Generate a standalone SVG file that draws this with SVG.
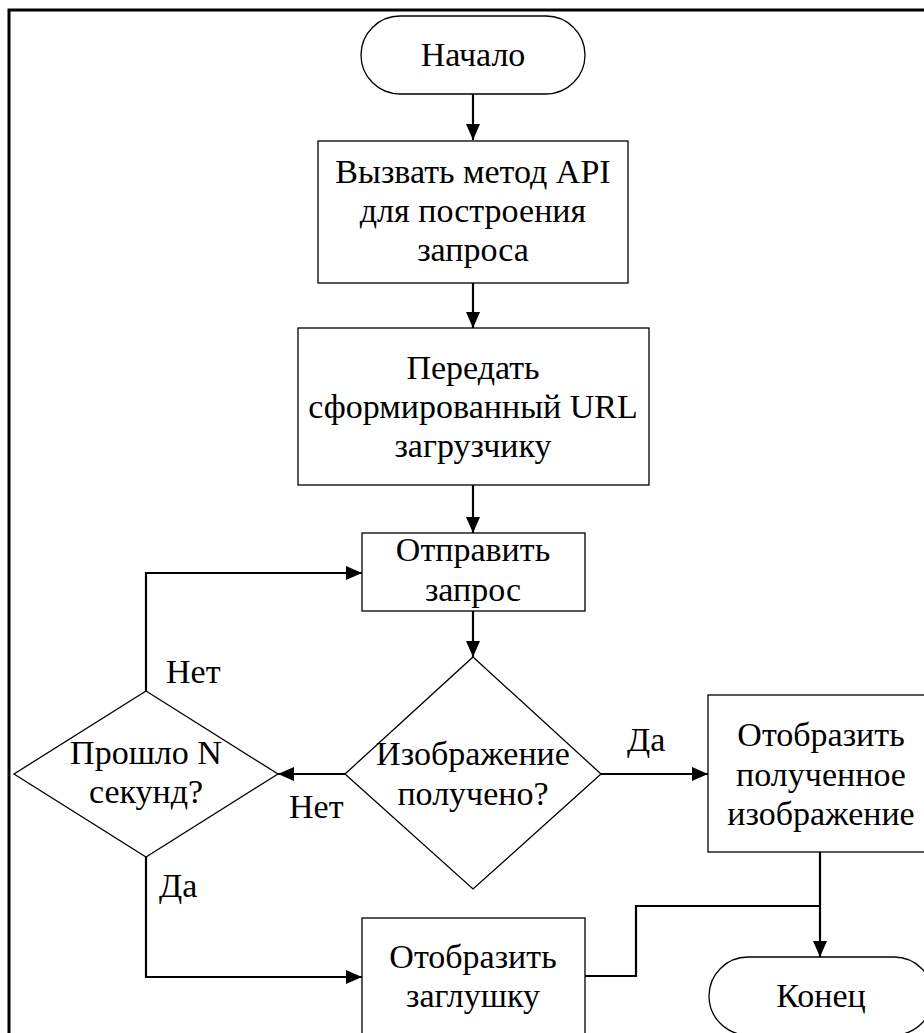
<svg xmlns="http://www.w3.org/2000/svg" width="924" height="1033" viewBox="0 0 924 1033">
  <style>
    .shape { fill: #ffffff; stroke: #000000; stroke-width: 1.3; }
    .edge { fill: none; stroke: #000000; stroke-width: 2.2; }
    .txt { font-family: "Liberation Serif", "Times New Roman", serif; font-size: 34px; fill: #000000; text-anchor: middle; }
    .lbl { font-family: "Liberation Serif", "Times New Roman", serif; font-size: 34px; fill: #000000; }
  </style>
  <defs>
    <marker id="arrow" viewBox="0 0 16 14" refX="16" refY="7" markerWidth="16" markerHeight="14" markerUnits="userSpaceOnUse" orient="auto">
      <path d="M0,0 L16,7 L0,14 Z" fill="#000000"/>
    </marker>
  </defs>
  <rect width="924" height="1033" fill="#ffffff"/>
  <!-- page frame -->
  <path d="M9,1040 V10 H930" fill="none" stroke="#000000" stroke-width="3"/>

  <g id="connectors">
    <path class="edge" d="M473,94 V140" marker-end="url(#arrow)"/>
    <path class="edge" d="M473,283 V328" marker-end="url(#arrow)"/>
    <path class="edge" d="M473,485 V533" marker-end="url(#arrow)"/>
    <path class="edge" d="M473,611 V657" marker-end="url(#arrow)"/>
    <path class="edge" d="M601,774 H708" marker-end="url(#arrow)"/>
    <path class="edge" d="M345,774 H278" marker-end="url(#arrow)"/>
    <path class="edge" d="M146,691 V573 H362" marker-end="url(#arrow)"/>
    <path class="edge" d="M146,857 V977 H362" marker-end="url(#arrow)"/>
    <path class="edge" d="M820,852 V957" marker-end="url(#arrow)"/>
    <path class="edge" d="M585,976 H636 V906 H820"/>
    <text class="lbl" x="166" y="683">Нет</text>
    <text class="lbl" x="289" y="818">Нет</text>
    <text class="lbl" x="627" y="751">Да</text>
    <text class="lbl" x="159" y="897">Да</text>
  </g>

  <g id="start">
    <rect class="shape" x="361" y="16" width="224" height="78" rx="39" ry="39"/>
    <text class="txt" x="473" y="66">Начало</text>
  </g>

  <g id="build-request">
    <rect class="shape" x="318" y="141" width="310" height="142"/>
    <text class="txt" x="473" y="183">Вызвать метод API</text>
    <text class="txt" x="473" y="222">для построения</text>
    <text class="txt" x="473" y="261">запроса</text>
  </g>

  <g id="pass-url">
    <rect class="shape" x="298" y="328" width="351" height="157"/>
    <text class="txt" x="473" y="379">Передать</text>
    <text class="txt" x="473" y="418">сформированный URL</text>
    <text class="txt" x="473" y="457">загрузчику</text>
  </g>

  <g id="send-request">
    <rect class="shape" x="362" y="533" width="223" height="78"/>
    <text class="txt" x="473" y="561">Отправить</text>
    <text class="txt" x="473" y="601">запрос</text>
  </g>

  <g id="image-received">
    <polygon class="shape" points="473,657 601,774 473,889 345,774"/>
    <text class="txt" x="473" y="765">Изображение</text>
    <text class="txt" x="473" y="805">получено?</text>
  </g>

  <g id="timeout">
    <polygon class="shape" points="146,691 278,774 146,857 14,774"/>
    <text class="txt" x="146" y="764">Прошло N</text>
    <text class="txt" x="146" y="803">секунд?</text>
  </g>

  <g id="show-image">
    <rect class="shape" x="708" y="695" width="225" height="157"/>
    <text class="txt" x="821" y="746">Отобразить</text>
    <text class="txt" x="821" y="786">полученное</text>
    <text class="txt" x="821" y="825">изображение</text>
  </g>

  <g id="show-placeholder">
    <rect class="shape" x="362" y="918" width="223" height="130"/>
    <text class="txt" x="473" y="968">Отобразить</text>
    <text class="txt" x="473" y="1007">заглушку</text>
  </g>

  <g id="end">
    <rect class="shape" x="709" y="957" width="224" height="78" rx="39" ry="39"/>
    <text class="txt" x="821" y="1007">Конец</text>
  </g>
</svg>
